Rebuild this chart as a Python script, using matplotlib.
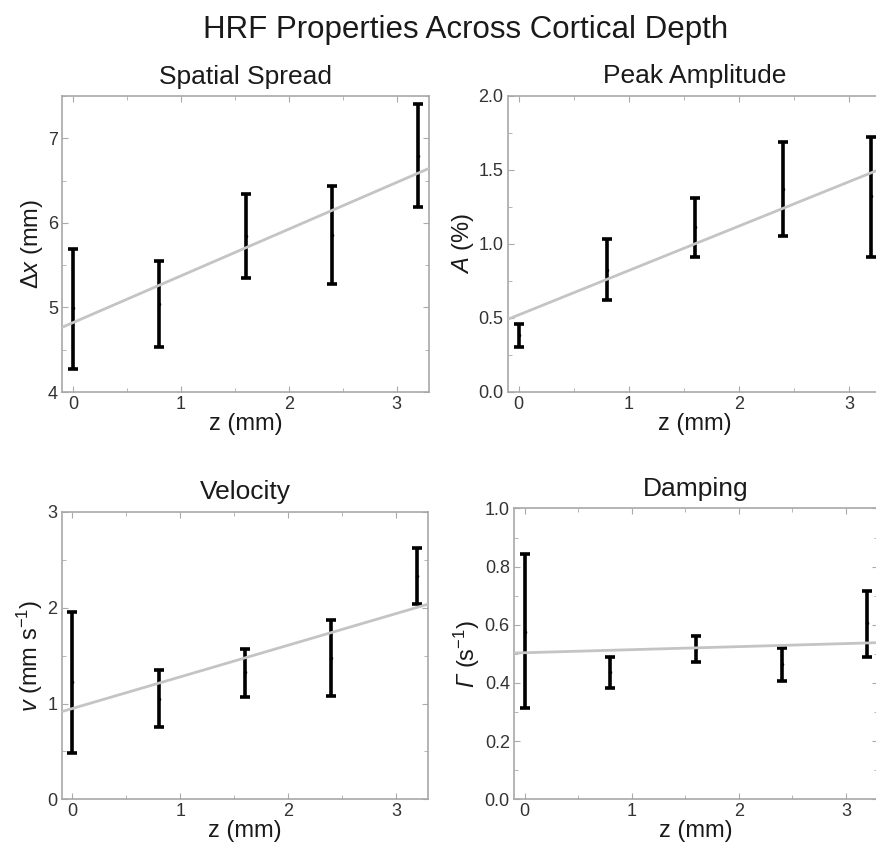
import numpy as np
import matplotlib
matplotlib.use('Agg')
import matplotlib.pyplot as plt
from matplotlib.ticker import MultipleLocator

plt.rcParams['font.family'] = ['Liberation Sans', 'DejaVu Sans']
plt.rcParams['mathtext.fontset'] = 'custom'
plt.rcParams['mathtext.rm'] = 'Liberation Sans'
plt.rcParams['mathtext.it'] = 'Liberation Sans:italic'
# italic greek capitals: mathit forces them upright, so borrow the sf slot
plt.rcParams['mathtext.sf'] = 'Liberation Sans:italic'

# depth (mm)
z = [0, 0.8, 1.6, 2.4, 3.2]

# values: centre, lower and upper end of each bar
spread_mid = [4.99, 5.04, 5.84, 5.86, 6.79]
spread_lo = [4.27, 4.53, 5.35, 5.28, 6.19]
spread_hi = [5.69, 5.55, 6.34, 6.44, 7.41]

amp_mid = [0.38, 0.82, 1.11, 1.37, 1.32]
amp_lo = [0.30, 0.62, 0.91, 1.05, 0.91]
amp_hi = [0.46, 1.03, 1.31, 1.69, 1.72]

vel_mid = [1.22, 1.05, 1.33, 1.48, 2.33]
vel_lo = [0.48, 0.75, 1.07, 1.08, 2.04]
vel_hi = [1.95, 1.35, 1.57, 1.87, 2.62]

damp_mid = [0.576, 0.439, 0.519, 0.465, 0.605]
damp_lo = [0.313, 0.384, 0.473, 0.407, 0.490]
damp_hi = [0.845, 0.490, 0.561, 0.519, 0.716]

# linear fits (intercept, slope)
spread_fit = (4.82, 0.553)
amp_fit = (0.519, 0.300)
vel_fit = (0.948, 0.330)
damp_fit = (0.504, 0.0105)

panels = [
    ('Spatial Spread', r'$\Delta\mathit{x}$ (mm)', spread_mid, spread_lo, spread_hi, spread_fit,
     (4, 7.5), 1, 0.5, '%d', [0.0708, 0.5377, 0.419, 0.349]),
    ('Peak Amplitude', r'$\mathit{A}$ (%)', amp_mid, amp_lo, amp_hi, amp_fit,
     (0, 2), 0.5, 0.25, '%.1f', [0.5796, 0.5381, 0.4273, 0.349]),
    ('Velocity', r'$\mathit{v}$ (mm s$^{-1}$)', vel_mid, vel_lo, vel_hi, vel_fit,
     (0, 3), 1, 0.5, '%d', [0.0704, 0.0574, 0.4185, 0.339]),
    ('Damping', r'$\mathsf{\Gamma}$ (s$^{-1}$)', damp_mid, damp_lo, damp_hi, damp_fit,
     (0, 1), 0.2, 0.1, '%.1f', [0.5868, 0.0574, 0.4155, 0.343]),
]

fig = plt.figure(figsize=(8.76, 8.48), dpi=100)
fig.suptitle('HRF Properties Across Cortical Depth', fontsize=22.5, x=0.532, y=0.965,
             va='center', color='#1a1a1a')

for title, ylabel, mid, lo, hi, fit, ylim, major, minor, fmt, pos in panels:
    ax = fig.add_axes(pos)
    mid = np.array(mid)
    yerr = [mid - np.array(lo), np.array(hi) - mid]
    xl = np.array([-0.1, 3.3])
    ax.plot(xl, fit[0] + fit[1] * xl, color='#c4c4c4', lw=2, zorder=3)
    ax.errorbar(z, mid, yerr=yerr, fmt='.', color='black', ms=3,
                elinewidth=2.6, capsize=3.5, capthick=2.6, zorder=2)
    ax.set_xlim(-0.1, 3.3)
    ax.set_ylim(*ylim)
    ax.xaxis.set_major_locator(MultipleLocator(1))
    ax.xaxis.set_minor_locator(MultipleLocator(0.5))
    ax.yaxis.set_major_locator(MultipleLocator(major))
    ax.yaxis.set_minor_locator(MultipleLocator(minor))
    ax.yaxis.set_major_formatter(matplotlib.ticker.FormatStrFormatter(fmt))
    ax.tick_params(which='both', direction='in', top=True, right=True,
                   color='#aaaaaa', labelcolor='#333333', labelsize=13, pad=3)
    ax.tick_params(which='major', length=4)
    ax.tick_params(which='minor', length=3)
    for s in ax.spines.values():
        s.set_color('#a8a8a8')
        s.set_linewidth(1.2)
    ax.set_title(title, fontsize=19, color='#1a1a1a', pad=9)
    ax.set_xlabel('z (mm)', fontsize=17, color='#1a1a1a', labelpad=0)
    ax.set_ylabel(ylabel, fontsize=17, color='#1a1a1a', labelpad=2)

fig.savefig('out.png', dpi=100, facecolor='white')
